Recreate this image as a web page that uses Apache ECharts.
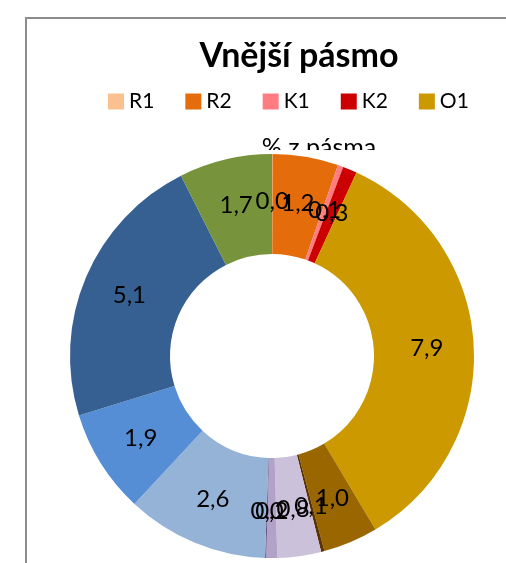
<!DOCTYPE html>
<html>
<head>
<meta charset="utf-8">
<script src="https://cdn.jsdelivr.net/npm/echarts@6/dist/echarts.min.js"></script>
<style>
  html, body { margin: 0; padding: 0; background: #fff; }
  #chart { width: 506px; height: 563px; }
</style>
</head>
<body>
<div id="chart"></div>
<script>
// categories and values, clockwise from 12 o'clock
var names = ['R1', 'R2', 'K1', 'K2', 'O1', 'O2', 'O3', 'S1', 'S2', 'S3', 'Z1', 'Z2', 'Z3', 'Z4']
var values = [0.01, 1.2, 0.1, 0.26, 7.9, 1.0, 0.06, 0.8, 0.2, 0.02, 2.6, 1.9, 5.1, 1.7]
var colors = ['#FAC090', '#E46C0A', '#FF7C80', '#CC0000', '#CC9900', '#996600', '#5C3300',
  '#CCC1DA', '#B3A2C7', '#604A7B', '#95B3D7', '#558ED5', '#376092', '#77933C']
var legendNames = ['R1', 'R2', 'K1', 'K2', 'O1']

var font = 'Lato, "Liberation Sans", sans-serif'
var chart = echarts.init(document.getElementById('chart'))

chart.setOption({
  animation: false,
  color: colors,
  title: {
    text: 'Vnější pásmo',
    left: 294,
    textAlign: 'center',
    top: 34,
    textStyle: { fontFamily: font, fontSize: 34, fontWeight: 'bold', color: '#000' }
  },
  legend: {
    data: legendNames,
    left: 108,
    top: 91,
    padding: 0,
    itemWidth: 16,
    itemHeight: 16,
    itemGap: 31,
    icon: 'rect',
    textStyle: { fontFamily: font, fontSize: 21, color: '#000', width: 27 }
  },
  graphic: [
    {
      type: 'text',
      z: 0,
      style: {
        x: 319, y: 148, text: '% z pásma', font: '25px ' + font, fill: '#000',
        align: 'center', verticalAlign: 'middle'
      }
    },
    {
      // plot area fill hides the lower half of the caption
      type: 'rect',
      z: 1,
      shape: { x: 60, y: 150, width: 440, height: 420 },
      style: { fill: '#fff' }
    },
    {
      type: 'rect',
      z: 10,
      shape: { x: 26, y: 18, width: 600, height: 600 },
      style: { fill: 'none', stroke: '#8c8c8c', lineWidth: 2 }
    }
  ],
  series: [
    {
      type: 'pie',
      z: 2,
      center: [272, 356],
      radius: [102, 202],
      startAngle: 90,
      clockwise: true,
      avoidLabelOverlap: false,
      minShowLabelAngle: 0,
      labelLayout: { hideOverlap: false },
      itemStyle: { borderWidth: 0 },
      label: {
        show: true,
        position: 'inside',
        fontFamily: font,
        fontSize: 24,
        color: '#000',
        formatter: function(p) {
          return p.value.toFixed(1).replace('.', ',')
        }
      },
      labelLine: { show: false },
      emphasis: { disabled: true },
      data: names.map(function(n, i) {
        return { name: n, value: values[i] }
      })
    }
  ]
})
</script>
</body>
</html>
